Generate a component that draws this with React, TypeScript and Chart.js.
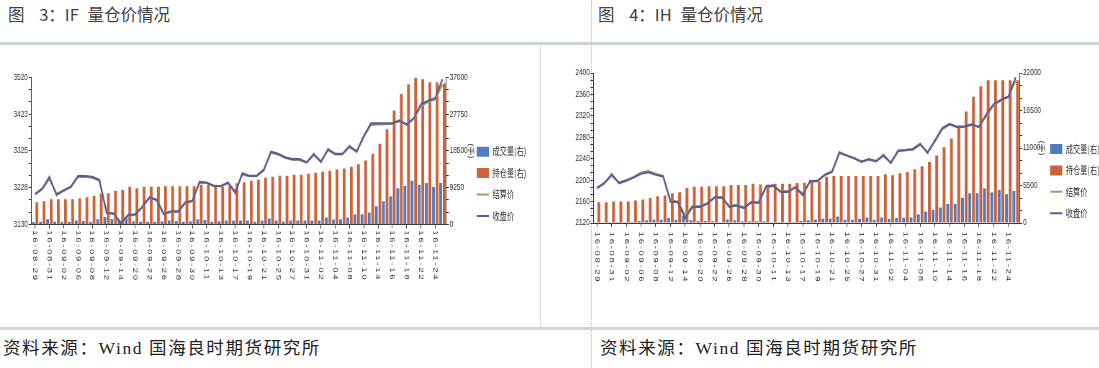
import React, { useEffect, useRef } from 'react';
import { Chart, registerables } from 'chart.js';

Chart.register(...registerables);

// ---------------- data ----------------
const dates = [
  '16-08-29', '16-08-30', '16-08-31', '16-09-01', '16-09-02', '16-09-05', '16-09-06', '16-09-07', '16-09-08', '16-09-09',
  '16-09-12', '16-09-13', '16-09-14', '16-09-19', '16-09-20', '16-09-21', '16-09-22', '16-09-23', '16-09-26', '16-09-27',
  '16-09-28', '16-09-29', '16-09-30', '16-10-10', '16-10-11', '16-10-12', '16-10-13', '16-10-14', '16-10-17', '16-10-18',
  '16-10-19', '16-10-20', '16-10-21', '16-10-24', '16-10-25', '16-10-26', '16-10-27', '16-10-28', '16-10-31', '16-11-01',
  '16-11-02', '16-11-03', '16-11-04', '16-11-07', '16-11-08', '16-11-09', '16-11-10', '16-11-11', '16-11-14', '16-11-15',
  '16-11-16', '16-11-17', '16-11-18', '16-11-21', '16-11-22', '16-11-23', '16-11-24', '16-11-25',
];

const seriesNames = ['成交量(右)', '持仓量(右)', '结算价', '收盘价'];

const ifVolume = [
  600, 700, 1300, 700, 700, 700, 1000, 900, 700, 1300,
  1900, 1400, 1100, 1900, 800, 700, 700, 700, 800, 1000,
  900, 700, 800, 1300, 1100, 700, 800, 1000, 1000, 1000,
  1000, 670, 1000, 1500, 1000, 750, 1000, 1000, 1000, 1000,
  1000, 1760, 1260, 1340, 1760, 2600, 2600, 3020, 4600, 5870,
  7120, 9130, 9720, 11000, 9970, 10400, 9400, 10400,
];
const ifOpenInterest = [
  5610, 5870, 6370, 6370, 6370, 6370, 6620, 6870, 7210, 7710,
  7880, 8460, 8720, 9470, 9130, 9470, 9470, 9470, 9640, 9640,
  9640, 9640, 9640, 9970, 9970, 9640, 9470, 9720, 10390, 10640,
  10980, 11230, 11730, 11980, 12230, 12230, 12490, 12490, 12740, 12990,
  13240, 13490, 13830, 14080, 14500, 15170, 16090, 17770, 20280, 23970,
  28660, 32850, 35280, 36900, 36540, 35780, 35780, 35450,
];
const ifSettle = [
  3211, 3224, 3250, 3212, 3219, 3229, 3256, 3257, 3254, 3246,
  3163, 3158, 3136, 3152, 3156, 3176, 3200, 3196, 3160, 3163,
  3165, 3186, 3192, 3240, 3240, 3233, 3231, 3240, 3218, 3262,
  3258, 3259, 3273, 3320, 3316, 3307, 3301, 3301, 3295, 3314,
  3297, 3327, 3316, 3316, 3335, 3324, 3362, 3394, 3395, 3396,
  3397, 3404, 3396, 3410, 3444, 3455, 3462, 3500,
];
const ifClose = [
  3210, 3225, 3256, 3208, 3221, 3230, 3258, 3258, 3256, 3248,
  3161, 3159, 3133, 3155, 3157, 3177, 3202, 3195, 3157, 3165,
  3164, 3188, 3193, 3243, 3241, 3232, 3232, 3241, 3214, 3266,
  3259, 3259, 3275, 3323, 3317, 3308, 3303, 3303, 3294, 3317,
  3296, 3330, 3317, 3317, 3338, 3323, 3365, 3398, 3398, 3398,
  3398, 3406, 3394, 3412, 3449, 3458, 3465, 3515,
];
const ifPriceRange = [3130, 3520];
const ifVolumeRange = [0, 37000];

const ihVolume = [
  100, 100, 150, 150, 150, 200, 290, 390, 530, 490,
  730, 490, 1100, 390, 290, 290, 240, 150, 530, 390,
  240, 240, 240, 240, 150, 150, 150, 150, 300, 400,
  500, 630, 630, 970, 480, 480, 630, 820, 480, 820,
  630, 725, 770, 820, 1300, 1690, 1930, 2270, 2800, 2800,
  3720, 4350, 4350, 5080, 4500, 4840, 4200, 4690,
];
const ihOpenInterest = [
  3060, 3060, 3160, 3160, 3160, 3300, 3450, 3650, 3940, 4030,
  4370, 4520, 5150, 5300, 5300, 5390, 5390, 5390, 5590, 5590,
  5590, 5740, 5640, 5640, 5740, 5740, 5740, 5880, 5900, 6050,
  6100, 6770, 6910, 6910, 6910, 6910, 6910, 6910, 6910, 7160,
  7010, 7300, 7490, 7880, 8320, 8950, 9910, 11120, 12380, 14260,
  16340, 18520, 20070, 20940, 20940, 20940, 20940, 20940,
];
const ihSettle = [
  2186, 2195, 2208, 2196, 2200, 2206, 2214, 2217, 2212, 2208,
  2162, 2160, 2135, 2152, 2151, 2157, 2167, 2167, 2152, 2154,
  2149, 2158, 2158, 2186, 2189, 2179, 2179, 2186, 2175, 2197,
  2199, 2209, 2215, 2250, 2246, 2241, 2235, 2238, 2236, 2245,
  2233, 2254, 2256, 2257, 2266, 2252, 2272, 2295, 2304, 2300,
  2300, 2303, 2300, 2320, 2340, 2349, 2355, 2386,
];
const ihClose = [
  2185, 2194, 2211, 2194, 2199, 2205, 2212, 2215, 2210, 2207,
  2160, 2159, 2129, 2150, 2150, 2156, 2168, 2168, 2150, 2153,
  2148, 2159, 2158, 2188, 2190, 2178, 2178, 2187, 2172, 2198,
  2198, 2210, 2216, 2252, 2246, 2241, 2234, 2239, 2235, 2247,
  2232, 2255, 2256, 2258, 2268, 2251, 2274, 2297, 2305, 2299,
  2300, 2304, 2299, 2323, 2342, 2350, 2356, 2392,
];
const ihPriceRange = [2120, 2400];
const ihVolumeRange = [0, 22000];

// ---------------- style ----------------
const SX = 0.72; // horizontal squeeze of the chart images
const AXIS = '#3c3c3c';
const TEXT = '#2e2e2e';
const BLUE = '#4f7cc0';
const ORANGE = '#cc623a';
const GREEN = '#95a65c';
const PURPLE = '#615a98';
const CJK = '"Noto Sans CJK SC", "Noto Sans", sans-serif';
const TICKFONT = '"Liberation Sans", Arial, sans-serif';

type Geo = {
  left: number; top: number; width: number; height: number;
  padTop: number; padRight: number; yW: number; y1W: number; xH: number;
  labelGap: number; legX: number; legY: number; priceSteps: number;
};

const xLabelPlugin = (gap: number) => ({
  id: 'rotatedXLabels',
  afterDraw(chart: any) {
    const xs = chart.scales.x;
    const ctx = chart.ctx as CanvasRenderingContext2D;
    const labels = chart.data.labels as string[];
    ctx.save();
    ctx.font = `9.5px ${TICKFONT}`;
    ctx.fillStyle = TEXT;
    ctx.textAlign = 'left';
    ctx.textBaseline = 'middle';
    (ctx as any).letterSpacing = '1.7px';
    labels.forEach((lab, i) => {
      if (i % 2 !== 0) return;
      const x = xs.getPixelForValue(i);
      const y = xs.top + gap;
      ctx.save();
      ctx.translate(x, y);
      ctx.rotate(Math.PI / 2);
      ctx.fillText(lab, 0, 0);
      ctx.restore();
    });
    ctx.restore();
  },
});

const legendPlacer = (x: number, y: number) => ({
  id: 'legendPlacer',
  afterLayout(chart: any) {
    const lg = chart.legend;
    if (!lg) return;
    const w = lg.width;
    const h = lg.height;
    lg.left = x; lg.right = x + w; lg.top = y; lg.bottom = y + h;
  },
});

type PanelProps = {
  volume: number[]; openInterest: number[]; settle: number[]; close: number[];
  priceRange: number[]; volumeRange: number[]; geo: Geo;
};

function ChartPanel({ volume, openInterest, settle, close, priceRange, volumeRange, geo }: PanelProps) {
  const ref = useRef<HTMLCanvasElement>(null);
  useEffect(() => {
    const canvas = ref.current;
    if (!canvas) return;
    const tickCb = (v: any, i: number) => (i % 3 === 0 ? String(Math.round(Number(v))) : '');
    const chart = new Chart(canvas, {
      type: 'bar',
      data: {
        labels: dates,
        datasets: [
          { type: 'bar', label: seriesNames[0], data: volume, backgroundColor: BLUE, borderWidth: 0, yAxisID: 'y1', order: 2, categoryPercentage: 1, barPercentage: 0.78 } as any,
          { type: 'bar', label: seriesNames[1], data: openInterest, backgroundColor: ORANGE, borderWidth: 0, yAxisID: 'y1', order: 3, categoryPercentage: 1, barPercentage: 0.78 } as any,
          { type: 'line', label: seriesNames[2], data: settle, borderColor: GREEN, backgroundColor: GREEN, borderWidth: 2.2, pointRadius: 0, tension: 0, yAxisID: 'y', order: 1 } as any,
          { type: 'line', label: seriesNames[3], data: close, borderColor: PURPLE, backgroundColor: PURPLE, borderWidth: 2.2, pointRadius: 0, tension: 0, yAxisID: 'y', order: 0 } as any,
        ],
      },
      options: {
        responsive: false,
        animation: false,
        devicePixelRatio: 1,
        layout: { padding: { left: 0, top: geo.padTop, right: geo.padRight, bottom: 0 } },
        plugins: {
          tooltip: { enabled: false },
          legend: {
            display: true,
            position: 'chartArea' as any,
            align: 'start',
            labels: {
              usePointStyle: true,
              pointStyleWidth: 17,
              boxHeight: 11,
              padding: 11.4,
              color: TEXT,
              font: { family: CJK, size: 10 },
              generateLabels: (ch: any) => {
                const items = (Chart.defaults.plugins.legend.labels as any).generateLabels(ch);
                return items
                  .map((it: any) => {
                    const ds: any = ch.data.datasets[it.datasetIndex];
                    const isLine = ds.type === 'line';
                    const col = isLine ? ds.borderColor : ds.backgroundColor;
                    return { ...it, pointStyle: isLine ? 'line' : 'rect', lineWidth: isLine ? 2 : 0, strokeStyle: col, fillStyle: col };
                  })
                  .sort((a: any, b: any) => a.datasetIndex - b.datasetIndex);
              },
            },
          } as any,
        },
        scales: {
          x: {
            type: 'category',
            offset: true,
            grid: {
              display: true, drawOnChartArea: false, offset: false, tickLength: 4, color: AXIS,
              tickColor: (c: any) => (c.index % 2 === 0 ? AXIS : 'rgba(0,0,0,0)'),
            },
            border: { display: true, color: AXIS, width: 1 },
            ticks: { display: false, autoSkip: false },
            afterFit: (s: any) => { s.height = geo.xH; },
          } as any,
          y: {
            type: 'linear', position: 'left',
            min: priceRange[0], max: priceRange[1],
            ticks: { stepSize: (priceRange[1] - priceRange[0]) / geo.priceSteps, autoSkip: false, callback: tickCb, color: TEXT, font: { family: TICKFONT, size: 9 }, padding: 1 },
            grid: { drawOnChartArea: false, tickLength: 4, color: AXIS, tickColor: AXIS },
            border: { display: true, color: AXIS, width: 1 },
            afterFit: (s: any) => { s.width = geo.yW; },
          } as any,
          y1: {
            type: 'linear', position: 'right',
            min: volumeRange[0], max: volumeRange[1],
            ticks: { stepSize: (volumeRange[1] - volumeRange[0]) / 12, autoSkip: false, callback: tickCb, color: TEXT, font: { family: TICKFONT, size: 9 }, padding: 1 },
            grid: { drawOnChartArea: false, tickLength: 4, color: AXIS, tickColor: AXIS },
            border: { display: true, color: AXIS, width: 1 },
            title: { display: true, text: '(手)', color: TEXT, font: { family: CJK, size: 9 }, padding: 0 },
            afterFit: (s: any) => { s.width = geo.y1W; },
          } as any,
        },
      },
      plugins: [xLabelPlugin(geo.labelGap), legendPlacer(geo.legX, geo.legY)],
    });
    return () => chart.destroy();
  }, []);
  return (
    <canvas
      ref={ref}
      width={geo.width}
      height={geo.height}
      style={{
        position: 'absolute', left: geo.left, top: geo.top,
        width: geo.width, height: geo.height,
        transform: `scaleX(${SX})`, transformOrigin: '0 0',
      }}
    />
  );
}

const ifGeo: Geo = { left: 0, top: 46, width: 750, height: 274, padTop: 31.3, padRight: 89.7, yW: 43.75, y1W: 40.9, xH: 95.5, labelGap: 5.7, legX: 650.7, legY: 89.3, priceSteps: 12 };
const ihGeo: Geo = { left: 560, top: 46, width: 749, height: 274, padTop: 27, padRight: 74.2, yW: 46.25, y1W: 36.8, xH: 97, labelGap: 8.7, legX: 669.2, legY: 86.6, priceSteps: 21 };

const titleStyle: React.CSSProperties = {
  position: 'absolute', top: 2, fontFamily: CJK, fontSize: 16.5, color: '#404040',
  whiteSpace: 'pre', wordSpacing: 11, lineHeight: '24px',
};
const sourceStyle: React.CSSProperties = {
  position: 'absolute', top: 336, fontFamily: `"Liberation Serif", ${CJK}`, fontSize: 17.5, color: '#222',
  whiteSpace: 'pre', lineHeight: '24px', letterSpacing: 1.6,
};
const rule = (top: number): React.CSSProperties => ({ position: 'absolute', left: 0, top, width: 1099, height: 3, background: '#cad5df' });

export default function App() {
  return (
    <div style={{ position: 'absolute', left: 0, top: 0, width: 1099, height: 368, background: '#fff', overflow: 'hidden' }}>
      <div style={{ ...titleStyle, left: 8 }}>图 3：IF<span style={{ wordSpacing: 5 }}> 量仓价情况</span></div>
      <div style={{ ...titleStyle, left: 598 }}>图 4：IH<span style={{ wordSpacing: 5 }}> 量仓价情况</span></div>
      <div style={rule(42)} />
      <div style={rule(327)} />
      <div style={{ position: 'absolute', left: 540, top: 45, width: 1, height: 282, background: '#dcdcdc' }} />
      <div style={{ position: 'absolute', left: 591, top: 0, width: 0, height: 368, borderLeft: '1px dotted #bdbdbd' }} />
      <ChartPanel volume={ifVolume} openInterest={ifOpenInterest} settle={ifSettle} close={ifClose} priceRange={ifPriceRange} volumeRange={ifVolumeRange} geo={ifGeo} />
      <ChartPanel volume={ihVolume} openInterest={ihOpenInterest} settle={ihSettle} close={ihClose} priceRange={ihPriceRange} volumeRange={ihVolumeRange} geo={ihGeo} />
      <div style={{ ...sourceStyle, left: 3 }}>资料来源：Wind 国海良时期货研究所</div>
      <div style={{ ...sourceStyle, left: 600 }}>资料来源：Wind 国海良时期货研究所</div>
    </div>
  );
}
